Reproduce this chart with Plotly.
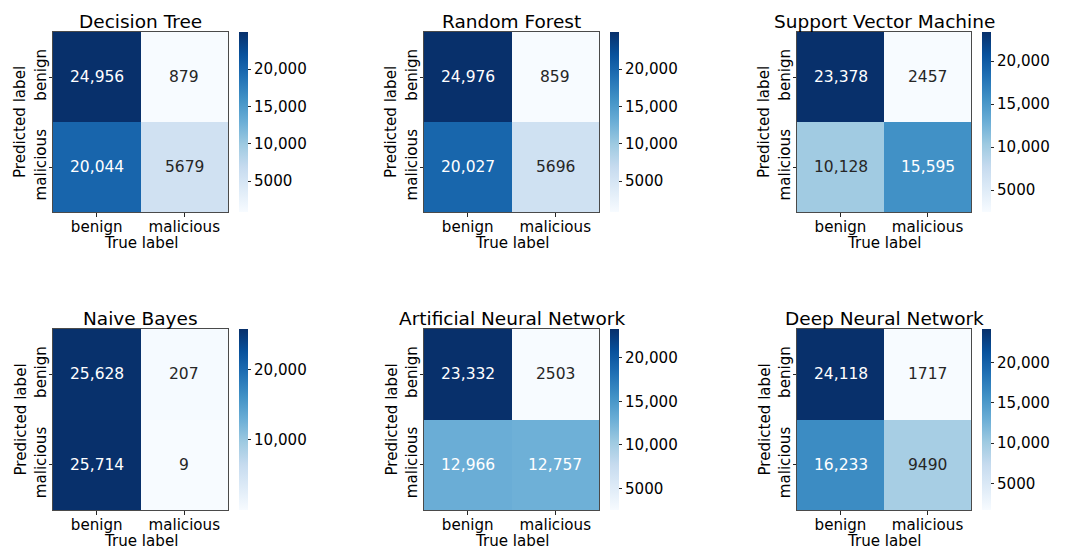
import plotly.graph_objects as go

# Confusion matrices: rows = predicted label, columns = true label
labels = ["benign", "malicious"]

titles = [
    "Decision Tree",
    "Random Forest",
    "Support Vector Machine",
    "Naive Bayes",
    "Artificial Neural Network",
    "Deep Neural Network",
]

decision_tree = [[24956, 879], [20044, 5679]]
random_forest = [[24976, 859], [20027, 5696]]
support_vector_machine = [[23378, 2457], [10128, 15595]]
naive_bayes = [[25628, 207], [25714, 9]]
artificial_neural_network = [[23332, 2503], [12966, 12757]]
deep_neural_network = [[24118, 1717], [16233, 9490]]

matrices = [
    decision_tree,
    random_forest,
    support_vector_machine,
    naive_bayes,
    artificial_neural_network,
    deep_neural_network,
]

# Colorbar tick values for each panel
cbar_ticks = [
    [5000, 10000, 15000, 20000],
    [5000, 10000, 15000, 20000],
    [5000, 10000, 15000, 20000],
    [10000, 20000],
    [5000, 10000, 15000, 20000],
    [5000, 10000, 15000, 20000],
]

W, H = 1067, 549
FONT = "DejaVu Sans"
TICK_SIZE = 15.1
CELL_SIZE = 15.5
TITLE_SIZE = 18.5
TEXT_DARK = "#262626"

# ColorBrewer Blues (9 classes), light to dark
BLUES_HEX = ["#f7fbff", "#deebf7", "#c6dbef", "#9ecae1", "#6baed6",
             "#4292c6", "#2171b5", "#08519c", "#08306b"]
BLUES = [[i / (len(BLUES_HEX) - 1), c] for i, c in enumerate(BLUES_HEX)]


def hex_rgb(h):
    h = h.lstrip("#")
    return tuple(int(h[i:i + 2], 16) / 255 for i in (0, 2, 4))


def sample_blues(t):
    t = min(max(t, 0.0), 1.0)
    n = len(BLUES_HEX) - 1
    i = min(int(t * n), n - 1)
    f = t * n - i
    a, b = hex_rgb(BLUES_HEX[i]), hex_rgb(BLUES_HEX[i + 1])
    return tuple(a[k] + (b[k] - a[k]) * f for k in range(3))


def luminance(rgb):
    def lin(c):
        return c / 12.92 if c <= 0.03928 else ((c + 0.055) / 1.055) ** 2.4
    r, g, b = (lin(c) for c in rgb)
    return 0.2126 * r + 0.7152 * g + 0.0722 * b


def fmt(v):
    return f"{v:,}" if v >= 10000 else str(v)


# Panel geometry in pixels: heatmap box left/right per column, top/bottom per row
col_x = [(53, 228), (424, 599), (797, 971)]
row_y = [(32, 212), (329, 510)]
CB_GAP = 11
CB_THICK = 9

fig = go.Figure()
annotations = []

for idx, (title, z, ticks) in enumerate(zip(titles, matrices, cbar_ticks)):
    r, c = divmod(idx, 3)
    x0, x1 = col_x[c]
    y0, y1 = row_y[r]
    n = idx + 1
    xa = "x" if n == 1 else f"x{n}"
    ya = "y" if n == 1 else f"y{n}"
    xkey = "xaxis" if n == 1 else f"xaxis{n}"
    ykey = "yaxis" if n == 1 else f"yaxis{n}"

    flat = [v for row in z for v in row]
    zmin, zmax = min(flat), max(flat)

    fig.add_trace(go.Heatmap(
        z=z, x=labels, y=labels,
        xaxis=xa, yaxis=ya,
        colorscale=BLUES, zmin=zmin, zmax=zmax,
        hoverinfo="skip",
        colorbar=dict(
            x=(x1 + CB_GAP) / W, xanchor="left", xpad=0,
            y=1 - (y0 + y1) / 2 / H, yanchor="middle", ypad=0,
            len=y1 - y0, lenmode="pixels",
            thickness=CB_THICK, thicknessmode="pixels",
            outlinewidth=0,
            ticks="outside", ticklen=3.5, tickwidth=1, tickcolor=TEXT_DARK,
            tickvals=ticks, ticktext=[fmt(t) for t in ticks],
            tickfont=dict(family=FONT, size=TICK_SIZE, color="black"),
        ),
    ))

    fig.layout[xkey] = dict(
        domain=[x0 / W, x1 / W], anchor=ya,
        showgrid=False, zeroline=False,
        showline=True, mirror=True, linecolor="#4a4a4a", linewidth=1,
        ticks="outside", ticklen=3.5, tickcolor=TEXT_DARK,
        ticklabelstandoff=-3,
        tickfont=dict(family=FONT, size=TICK_SIZE, color="black"),
        automargin=False, fixedrange=True,
    )
    fig.layout[ykey] = dict(
        domain=[1 - y1 / H, 1 - y0 / H], anchor=xa,
        autorange="reversed",
        showgrid=False, zeroline=False,
        showline=True, mirror=True, linecolor="#4a4a4a", linewidth=1,
        ticks="outside", ticklen=3.5, tickcolor=TEXT_DARK, tickangle=-90,
        ticklabelstandoff=-4,
        tickfont=dict(family=FONT, size=TICK_SIZE, color="black"),
        automargin=False, fixedrange=True,
    )

    # Cell value labels, colored for contrast against the cell
    for i, yl in enumerate(labels):
        for j, xl in enumerate(labels):
            v = z[i][j]
            rgb = sample_blues((v - zmin) / (zmax - zmin))
            color = TEXT_DARK if luminance(rgb) > 0.408 else "white"
            annotations.append(dict(
                x=xl, y=yl, xref=xa, yref=ya, text=fmt(v), showarrow=False,
                font=dict(family=FONT, size=CELL_SIZE, color=color),
            ))

    # Panel title
    annotations.append(dict(
        x=(x0 + x1) / 2 / W, y=1 - y0 / H, xref="paper", yref="paper",
        text=title, showarrow=False, xanchor="center", yanchor="bottom",
        yshift=-2,
        font=dict(family=FONT, size=TITLE_SIZE, color="black"),
    ))
    # Axis titles
    annotations.append(dict(
        x=(x0 + x1) / 2 / W, y=1 - (y1 + 31) / H, xref="paper", yref="paper",
        text="True label", showarrow=False, xanchor="center", yanchor="middle",
        font=dict(family=FONT, size=TICK_SIZE, color="black"),
    ))
    annotations.append(dict(
        x=(x0 - 33) / W, y=1 - (y0 + y1) / 2 / H, xref="paper", yref="paper",
        text="Predicted label", showarrow=False, textangle=-90,
        xanchor="center", yanchor="middle",
        font=dict(family=FONT, size=TICK_SIZE, color="black"),
    ))

fig.update_layout(
    width=W, height=H,
    margin=dict(l=0, r=0, t=0, b=0),
    paper_bgcolor="white", plot_bgcolor="white",
    annotations=annotations,
    showlegend=False,
)

fig.write_html("out.html")
